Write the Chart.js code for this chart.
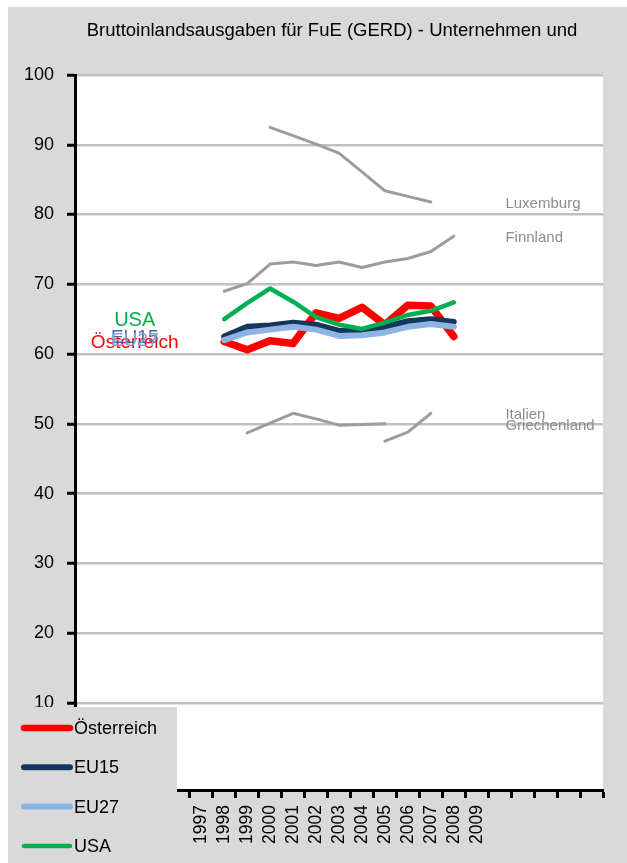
<!DOCTYPE html>
<html>
<head>
<meta charset="utf-8">
<script src="https://cdn.jsdelivr.net/npm/chart.js@4.4.1/dist/chart.umd.min.js"></script>
<style>
  html, body { margin: 0; padding: 0; background: #fff; }
  canvas { display: block; }
</style>
</head>
<body>
<canvas id="gerd-chart" width="627" height="863"></canvas>
<script>
// categories: 5 empty slots in front, the years, then 5 empty slots
const years = ['1997', '1998', '1999', '2000', '2001', '2002', '2003', '2004', '2005', '2006', '2007', '2008', '2009'];
const xLabels = ['', '', '', '', ''].concat(years, ['', '', '', '', '']);
const yTicks = [10, 20, 30, 40, 50, 60, 70, 80, 90, 100];
const chartTitle = 'Bruttoinlandsausgaben für FuE (GERD) - Unternehmen und';

// values per year 1997..2009 (null = no value)
const oesterreich = [null, 61.8, 60.6, 61.9, 61.5, 65.9, 65.1, 66.7, 64.2, 67.0, 66.9, 62.5, null];
const eu15 = [null, 62.5, 63.9, 64.1, 64.5, 64.2, 63.3, 63.3, 63.9, 64.7, 65.0, 64.6, null];
const eu27 = [null, 62.0, 63.1, 63.5, 63.9, 63.5, 62.6, 62.7, 63.1, 63.9, 64.3, 63.9, null];
const usa = [null, 65.0, 67.3, 69.4, 67.5, 65.3, 64.2, 63.6, 64.5, 65.6, 66.2, 67.4, null];
const luxemburg = [null, null, null, 92.5, 91.3, 90.1, 88.8, 86.1, 83.4, 82.6, 81.8, null, null];
const finnland = [null, 69.0, 70.1, 72.9, 73.2, 72.7, 73.2, 72.4, 73.2, 73.7, 74.7, 76.9, null];
const griechenland = [null, null, 48.7, 50.1, 51.5, 50.7, 49.8, 49.9, 50.0, null, null, null, null];
const italien = [null, null, null, null, null, null, null, null, 47.5, 48.8, 51.5, null, null];

const SANS = "'Liberation Sans', Arial, sans-serif";

function toPoints(values) {
	return years.map((y, i) => ({ x: y, y: values[i] })).filter(p => p.y !== null);
}

function series(label, values, color, width, order, side, labelColor) {
	return {
		label: label,
		data: toPoints(values),
		borderColor: color,
		backgroundColor: color,
		borderWidth: width,
		pointRadius: 0,
		pointHoverRadius: 0,
		tension: 0,
		borderCapStyle: 'round',
		borderJoinStyle: 'round',
		fill: false,
		order: order,
		nameSide: side,
		nameColor: labelColor || color
	};
}

const grey = '#9c9c9c';

// backgrounds: white edge, grey frame, white plot area, and the title
const backgroundPlugin = {
	id: 'backgrounds',
	beforeDraw(chart) {
		const ctx = chart.ctx;
		const a = chart.chartArea;
		ctx.save();
		ctx.fillStyle = '#ffffff';
		ctx.fillRect(0, 0, chart.width, chart.height);
		ctx.fillStyle = '#d9d9d9';
		ctx.fillRect(8, 7, chart.width - 8, chart.height - 7);
		ctx.fillStyle = '#ffffff';
		ctx.fillRect(a.left, a.top, a.right - a.left, a.bottom - a.top);
		// title sits a bit right of the plot centre, like the original
		ctx.fillStyle = '#000';
		ctx.font = '18.5px ' + SANS;
		ctx.textAlign = 'center';
		ctx.textBaseline = 'middle';
		ctx.fillText(chartTitle, 332, 31);
		ctx.restore();
	}
};

// series names written next to the lines
const seriesNamesPlugin = {
	id: 'seriesNames',
	afterDatasetsDraw(chart) {
		const ctx = chart.ctx;
		const xs = chart.scales.x;
		const ys = chart.scales.y;
		ctx.save();
		ctx.textBaseline = 'middle';
		chart.data.datasets.forEach(ds => {
			const pts = ds.data;
			if (ds.nameSide === 'left') {
				ctx.font = (ds.label === 'USA' ? '20px ' : '19px ') + SANS;
				ctx.textAlign = 'center';
				ctx.fillStyle = ds.nameColor;
				ctx.fillText(ds.label, xs.getPixelForValue(2.1), ys.getPixelForValue(pts[0].y) + 1);
			} else {
				ctx.font = '15px ' + SANS;
				ctx.textAlign = 'left';
				ctx.fillStyle = '#8c8c8c';
				ctx.fillText(ds.label, xs.getPixelForValue(18.25), ys.getPixelForValue(pts[pts.length - 1].y) + 2);
			}
		});
		ctx.restore();
	}
};

// legend box in the lower left corner, drawn over the chart
const legendBoxPlugin = {
	id: 'legendBox',
	afterDraw(chart) {
		const ctx = chart.ctx;
		ctx.save();
		ctx.fillStyle = '#d9d9d9';
		ctx.fillRect(8, 707, 169, chart.height - 707);
		ctx.font = '18px ' + SANS;
		ctx.textBaseline = 'middle';
		ctx.textAlign = 'left';
		chart.data.datasets.filter(ds => ds.nameSide === 'left').forEach((ds, i) => {
			const y = 728 + i * 39.3;
			ctx.strokeStyle = ds.borderColor;
			ctx.lineWidth = Math.min(ds.borderWidth, 6.5);
			ctx.lineCap = 'round';
			ctx.beginPath();
			ctx.moveTo(24, y);
			ctx.lineTo(70, y);
			ctx.stroke();
			ctx.fillStyle = '#000';
			ctx.fillText(ds.label, 74, y + 1);
		});
		ctx.restore();
	}
};

window.onload = function () {
	const ctx = document.getElementById('gerd-chart').getContext('2d');
	new Chart(ctx, {
		type: 'line',
		data: {
			labels: xLabels,
			datasets: [
				series('Österreich', oesterreich, '#ff0000', 7.5, 4, 'left'),
				series('EU15', eu15, '#17365d', 6, 3, 'left', '#4a6a9c'),
				series('EU27', eu27, '#8eb4e3', 6, 2, 'left', '#7ea3d8'),
				series('USA', usa, '#00b050', 4.5, 1, 'left'),
				series('Luxemburg', luxemburg, grey, 3, 5, 'right'),
				series('Finnland', finnland, grey, 3, 5, 'right'),
				series('Italien', italien, grey, 3, 5, 'right'),
				series('Griechenland', griechenland, grey, 3, 5, 'right')
			]
		},
		options: {
			responsive: false,
			animation: false,
			events: [],
			layout: {
				padding: { left: 8, right: 24, top: 75, bottom: 0 }
			},
			scales: {
				x: {
					type: 'category',
					offset: true,
					grid: {
						display: true,
						drawOnChartArea: false,
						offset: true,
						tickLength: 8,
						tickColor: '#000',
						tickWidth: 3
					},
					border: { color: '#000', width: 3 },
					ticks: {
						autoSkip: false,
						minRotation: 90,
						maxRotation: 90,
						padding: 7,
						color: '#000',
						font: { family: SANS, size: 17.5 }
					},
					afterFit(scale) { scale.height = 73; }
				},
				y: {
					min: -2.5,
					max: 100,
					afterBuildTicks(scale) {
						scale.ticks = yTicks.map(v => ({ value: v }));
					},
					grid: {
						color: '#c0c0c0',
						lineWidth: 2.5,
						tickColor: '#000',
						tickLength: 8,
						tickWidth: 3
					},
					border: { color: '#000', width: 3 },
					ticks: {
						padding: 13,
						color: '#000',
						font: { family: SANS, size: 18 }
					},
					afterFit(scale) { scale.width = 67; }
				}
			},
			plugins: {
				legend: { display: false },
				tooltip: { enabled: false },
				title: { display: false }
			}
		},
		plugins: [backgroundPlugin, seriesNamesPlugin, legendBoxPlugin]
	});
};
</script>
</body>
</html>
